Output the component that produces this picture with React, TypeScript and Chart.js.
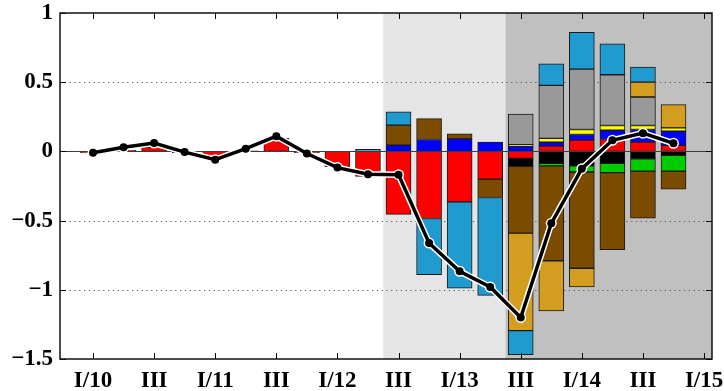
import { useEffect, useRef } from "react";
import { Chart, registerables } from "chart.js";
Chart.register(...registerables);

const quarters = [
  "I/10", "II/10", "III/10", "IV/10",
  "I/11", "II/11", "III/11", "IV/11",
  "I/12", "II/12", "III/12", "IV/12",
  "I/13", "II/13", "III/13", "IV/13",
  "I/14", "II/14", "III/14", "IV/14",
];
const tickLabels = ["I/10", "III", "I/11", "III", "I/12", "III", "I/13", "III", "I/14", "III", "I/15"];
const yTicks = [-1.5, -1, -0.5, 0, 0.5, 1];

// component contributions (stack order: red, blue, black, green, yellow, gray, brown, gold, cyan)
const redS = [-0.01, 0.01, 0.03, -0.01, -0.04, 0.005, 0.095, -0.01, -0.11, -0.18, -0.455, -0.485, -0.365, -0.2, -0.05, 0.038, 0.081, 0.086, 0.067, 0.043];
const blueS = [0, 0, 0, 0, 0, 0, 0, 0, 0, 0, 0.045, 0.086, 0.091, 0.067, 0.036, 0.029, 0.041, 0.067, 0.091, 0.103];
const blackS = [0, 0, 0, 0, 0, 0, 0, 0, 0, 0, 0, 0, 0, 0, -0.058, -0.086, -0.105, -0.086, -0.053, -0.029];
const greenS = [0, 0, 0, 0, 0, 0, 0, 0, 0, 0, 0, 0, 0, 0, 0, -0.019, -0.044, -0.067, -0.089, -0.113];
const yellowS = [0, 0, 0, 0, 0, 0, 0, 0, 0, 0, 0, 0, 0, 0, 0.012, 0.027, 0.036, 0.034, 0.029, 0.024];
const grayS = [0, 0, 0, 0, 0, 0, 0, 0, 0, 0, 0, 0, 0, 0, 0.222, 0.383, 0.437, 0.367, 0.206, 0];
const brownS = [0, 0, 0, 0, 0, 0, 0, 0, 0, 0, 0.145, 0.151, 0.036, -0.133, -0.482, -0.685, -0.695, -0.557, -0.34, -0.131];
const goldS = [0, 0, 0, 0, 0, 0, 0, 0, 0, 0, 0, 0, 0, 0, -0.705, -0.363, -0.136, 0, 0.108, 0.168];
const cyanS = [0, 0, 0, 0, 0, 0, 0, 0, 0, 0.015, 0.096, -0.405, -0.623, -0.707, -0.173, 0.156, 0.266, 0.223, 0.108, 0];

// total (line)
const totalS = [-0.01, 0.03, 0.06, -0.005, -0.06, 0.02, 0.11, -0.015, -0.117, -0.165, -0.168, -0.662, -0.866, -0.98, -1.2, -0.52, -0.125, 0.08, 0.132, 0.058];

const series = [
  { name: "red", color: "#ff0000", values: redS },
  { name: "blue", color: "#0000ff", values: blueS },
  { name: "black", color: "#000000", values: blackS },
  { name: "green", color: "#00cc00", values: greenS },
  { name: "yellow", color: "#ffff00", values: yellowS },
  { name: "gray", color: "#999999", values: grayS },
  { name: "brown", color: "#7b4b00", values: brownS },
  { name: "gold", color: "#d39d20", values: goldS },
  { name: "cyan", color: "#1f9bcf", values: cyanS },
];

const X_MIN = -1.08;
const X_MAX = 20.26;
const SHADE_A = 9.5;
const SHADE_B = 13.5;

const FONT = { family: "'Liberation Serif', 'Times New Roman', serif", size: 23, weight: "bold" as const };

export default function App() {
  const ref = useRef<HTMLCanvasElement | null>(null);

  useEffect(() => {
    if (!ref.current) return;
    const barSets = series.map((s) => ({
      type: "bar" as const,
      label: s.name,
      data: s.values.map((v, i) => ({ x: i, y: v === 0 ? null : v })),
      backgroundColor: s.color,
      borderColor: "#1a1a1a",
      borderWidth: 1,
      borderSkipped: false,
      barThickness: 25,
      stack: "bars",
      order: 10,
    }));
    const haloIndex = barSets.length;
    const halo = {
      type: "line" as const,
      label: "halo",
      data: totalS.map((v, i) => ({ x: i, y: v })),
      borderColor: "#ffffff",
      borderWidth: 6.5,
      pointRadius: 5.5,
      pointBackgroundColor: "#ffffff",
      pointBorderWidth: 0,
      stack: "halo",
      order: 1,
      tension: 0,
    };
    const main = {
      type: "line" as const,
      label: "total",
      data: totalS.map((v, i) => ({ x: i, y: v })),
      borderColor: "#000000",
      borderWidth: 3.5,
      pointRadius: 4,
      pointBackgroundColor: "#000000",
      pointBorderWidth: 0,
      stack: "main",
      order: 0,
      tension: 0,
    };

    const decor = {
      id: "decor",
      beforeDraw(chart: any) {
        const { ctx, chartArea: a, scales } = chart;
        const x = scales.x;
        const x1 = x.getPixelForValue(SHADE_A);
        const x2 = x.getPixelForValue(SHADE_B);
        ctx.save();
        ctx.fillStyle = "#e5e5e5";
        ctx.fillRect(x1, a.top, x2 - x1, a.bottom - a.top);
        ctx.fillStyle = "#c0c0c0";
        ctx.fillRect(x2, a.top, a.right - x2, a.bottom - a.top);
        ctx.restore();
      },
      beforeDatasetsDraw(chart: any) {
        const { ctx, chartArea: a, scales } = chart;
        const y = scales.y;
        ctx.save();
        ctx.strokeStyle = "#555555";
        ctx.lineWidth = 1;
        ctx.setLineDash([1.2, 3.6]);
        yTicks.forEach((v) => {
          if (v === 0 || v === 1 || v === -1.5) return;
          const py = Math.round(y.getPixelForValue(v)) + 0.5;
          ctx.beginPath();
          ctx.moveTo(a.left, py);
          ctx.lineTo(a.right, py);
          ctx.stroke();
        });
        ctx.restore();
      },
      beforeDatasetDraw(chart: any, args: any) {
        if (args.index !== haloIndex) return;
        const { ctx, chartArea: a, scales } = chart;
        const py = Math.round(scales.y.getPixelForValue(0)) + 0.5;
        ctx.save();
        ctx.strokeStyle = "#3c3c3c";
        ctx.lineWidth = 1.2;
        ctx.beginPath();
        ctx.moveTo(a.left, py);
        ctx.lineTo(a.right, py);
        ctx.stroke();
        ctx.restore();
      },
      afterDraw(chart: any) {
        const { ctx, chartArea: a, scales } = chart;
        const { x, y } = scales;
        ctx.save();
        ctx.strokeStyle = "#000000";
        ctx.lineWidth = 1;
        const tl = 6;
        tickLabels.forEach((_, k) => {
          const px = Math.round(x.getPixelForValue(k * 2)) + 0.5;
          ctx.beginPath();
          ctx.moveTo(px, a.bottom);
          ctx.lineTo(px, a.bottom - tl);
          ctx.moveTo(px, a.top);
          ctx.lineTo(px, a.top + tl);
          ctx.stroke();
        });
        yTicks.forEach((v) => {
          const py = Math.round(y.getPixelForValue(v)) + 0.5;
          ctx.beginPath();
          ctx.moveTo(a.left, py);
          ctx.lineTo(a.left + tl, py);
          ctx.moveTo(a.right, py);
          ctx.lineTo(a.right - tl, py);
          ctx.stroke();
        });
        ctx.lineWidth = 1.5;
        ctx.strokeStyle = "#111111";
        ctx.strokeRect(a.left, a.top, a.right - a.left, a.bottom - a.top);
        ctx.restore();
      },
    };

    const chart = new Chart(ref.current, {
      type: "bar",
      data: {
        labels: quarters,
        datasets: [...barSets, halo, main] as any,
      },
      options: {
        animation: false,
        responsive: false,
        maintainAspectRatio: false,
        layout: { padding: { top: 13, right: 12, left: 0, bottom: 0 }, autoPadding: false } as any,
        plugins: { legend: { display: false }, tooltip: { enabled: false } },
        scales: {
          x: {
            type: "linear",
            min: X_MIN,
            max: X_MAX,
            offset: false,
            stacked: true,
            grid: { display: false, offset: false },
            border: { display: false },
            afterFit: (s: any) => {
              s.height = 32;
              s.paddingLeft = 0;
              s.paddingRight = 0;
            },
            afterBuildTicks: (s: any) => {
              s.ticks = tickLabels.map((_, k) => ({ value: k * 2 }));
            },
            ticks: {
              autoSkip: false,
              maxRotation: 0,
              padding: 0,
              color: "#000000",
              font: FONT,
              callback: (v: any) => tickLabels[Math.round(Number(v) / 2)] ?? "",
            },
          },
          y: {
            type: "linear",
            min: -1.5,
            max: 1,
            stacked: true,
            grid: { display: false, drawTicks: false },
            border: { display: false },
            afterFit: (s: any) => {
              s.width = 60;
              s.paddingTop = 0;
              s.paddingBottom = 0;
            },
            afterBuildTicks: (s: any) => {
              s.ticks = yTicks.map((v) => ({ value: v }));
            },
            ticks: {
              padding: 7,
              color: "#000000",
              font: FONT,
              callback: (v: any) => {
                const n = Number(v);
                return n < 0 ? "\u2212" + String(Math.abs(n)) : String(n);
              },
            },
          },
        },
      } as any,
      plugins: [decor],
    });
    return () => chart.destroy();
  }, []);

  return (
    <div style={{ position: "fixed", left: 0, top: 0, width: 724, height: 391, background: "#fff" }}>
      <canvas ref={ref} width={724} height={391} style={{ display: "block" }} />
    </div>
  );
}
